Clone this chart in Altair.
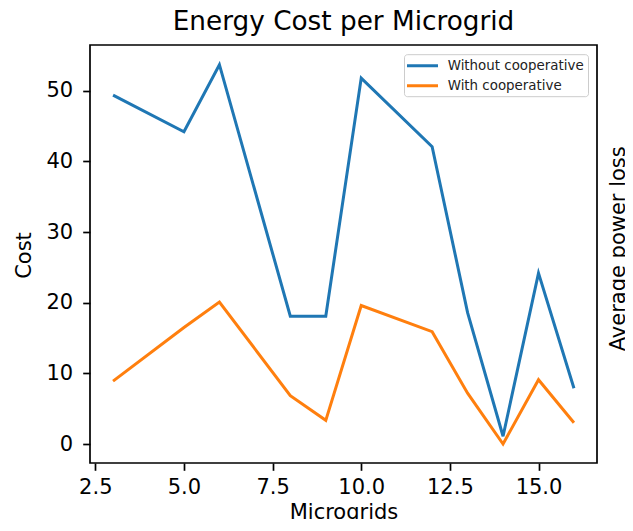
import altair as alt
import pandas as pd

microgrids = [3, 5, 6, 8, 9, 10, 12, 13, 14, 15, 16]
without_coop = [49.4, 44.2, 53.7, 18.1, 18.1, 51.8, 42.1, 18.6, 1.1, 24.2, 7.9]
with_coop = [8.9, 16.5, 20.1, 6.85, 3.35, 19.6, 15.9, 7.2, 0.0, 9.1, 3.0]
series_names = ["Without cooperative", "With cooperative"]
series_colors = ["#1f77b4", "#ff7f0e"]
x_ticks = [2.5, 5.0, 7.5, 10.0, 12.5, 15.0]
y_ticks = [0, 10, 20, 30, 40, 50]

rows = []
for name, vals in zip(series_names, [without_coop, with_coop]):
    for i, (m, v) in enumerate(zip(microgrids, vals)):
        rows.append({"Microgrids": m, "Cost": v, "Series": name, "order": i})
df = pd.DataFrame(rows)

FONT = "DejaVu Sans"

x_enc = alt.X(
    "Microgrids:Q",
    scale=alt.Scale(domain=[2.35, 16.65], nice=False, zero=False),
    axis=alt.Axis(
        values=x_ticks, format=".1f", title="Microgrids", labelPadding=6,
        titleX=253.5, titleY=55, titleBaseline="alphabetic", titleAlign="center",
    ),
)

lines = alt.Chart(df).mark_line(strokeWidth=3, clip=True).encode(
    x=x_enc,
    y=alt.Y(
        "Cost:Q",
        scale=alt.Scale(domain=[-2.69, 56.49], nice=False, zero=False),
        axis=alt.Axis(
            values=y_ticks, format="d", title="Cost", labelPadding=10,
            titleX=-60, titleY=210, titleAngle=270,
            titleBaseline="alphabetic", titleAlign="center",
        ),
    ),
    color=alt.Color(
        "Series:N",
        scale=alt.Scale(domain=series_names, range=series_colors),
        legend=alt.Legend(
            title=None, orient="none", legendX=314, legendY=9.2,
            symbolType="M-2.385,0L2.385,0", symbolSize=169, symbolStrokeWidth=3,
            symbolOffset=6.9, labelOffset=17.2,
            labelFontSize=13.4, labelFont=FONT, labelColor="#222222",
            rowPadding=5, padding=3.6,
            strokeColor="#cccccc", fillColor="rgba(255,255,255,0.8)",
            cornerRadius=3,
        ),
    ),
    order="order:Q",
)

right_axis = alt.Chart(df).mark_line(opacity=0).encode(
    x=x_enc,
    y=alt.Y(
        "Cost:Q",
        scale=alt.Scale(domain=[-2.69, 56.49], nice=False, zero=False),
        axis=alt.Axis(
            orient="right", labels=False, ticks=False, domain=False, grid=False,
            title="Average power loss",
            titleX=27, titleY=203.3, titleAngle=270,
            titleBaseline="alphabetic", titleAlign="center",
        ),
    ),
    detail="Series:N",
)

chart = alt.layer(lines, right_axis).resolve_axis(y="independent").resolve_scale(y="shared").properties(
    width=507,
    height=418,
    background="white",
    autosize=alt.AutoSizeParams(type="none"),
    padding={"left": 82, "top": 37, "right": 28, "bottom": 56},
    title=alt.TitleParams(
        "Energy Cost per Microgrid", font=FONT, fontSize=26.3, fontWeight="normal",
        color="black", anchor="middle", frame="group", baseline="alphabetic",
        offset=12, dy=23,
    ),
).configure_view(
    stroke="black", strokeWidth=1.7
).configure_axis(
    grid=False, domain=False,
    tickColor="black", tickSize=7.3, tickWidth=1.7,
    labelFont=FONT, labelFontSize=21, labelColor="black",
    titleFont=FONT, titleFontSize=21, titleColor="black", titleFontWeight="normal",
)

chart.save("out.html", embed_options={"renderer": "svg", "actions": False})
